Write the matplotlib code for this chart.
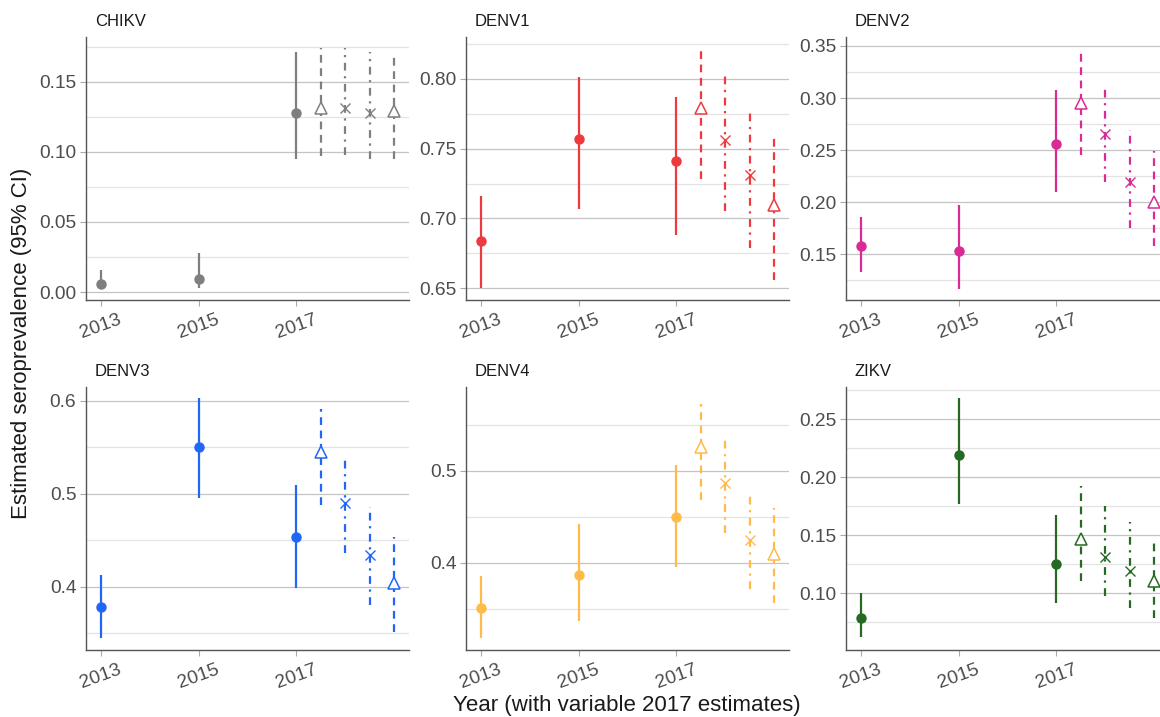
import matplotlib
matplotlib.use("Agg")
import matplotlib.pyplot as plt
import numpy as np

plt.rcParams['font.family'] = ['Liberation Sans', 'DejaVu Sans']

viruses = ["CHIKV", "DENV1", "DENV2", "DENV3", "DENV4", "ZIKV"]
colors = ["#7f7f7f", "#ee3a3f", "#d92a96", "#2166f7", "#ffba4a", "#256a23"]

obs_years = [2013, 2015, 2017]
var_x = [2017.5, 2018.0, 2018.5, 2019.0]
var_markers = ["^", "x", "x", "^"]
var_styles = [(0, (3.5, 2.5)), (0, (3.5, 2.5, 1, 2.5)), (0, (3.5, 2.5, 1, 2.5)), (0, (3.5, 2.5))]

obs_mid = {
    "CHIKV": [0.006, 0.009, 0.128],
    "DENV1": [0.684, 0.757, 0.741],
    "DENV2": [0.158, 0.153, 0.256],
    "DENV3": [0.378, 0.550, 0.453],
    "DENV4": [0.351, 0.387, 0.450],
    "ZIKV":  [0.079, 0.219, 0.125],
}
obs_lo = {
    "CHIKV": [0.003, 0.003, 0.095],
    "DENV1": [0.650, 0.707, 0.688],
    "DENV2": [0.133, 0.117, 0.210],
    "DENV3": [0.345, 0.495, 0.399],
    "DENV4": [0.318, 0.336, 0.395],
    "ZIKV":  [0.062, 0.177, 0.092],
}
obs_hi = {
    "CHIKV": [0.016, 0.028, 0.171],
    "DENV1": [0.716, 0.801, 0.787],
    "DENV2": [0.186, 0.197, 0.308],
    "DENV3": [0.413, 0.603, 0.509],
    "DENV4": [0.386, 0.442, 0.506],
    "ZIKV":  [0.100, 0.268, 0.167],
}
var_mid = {
    "CHIKV": [0.131, 0.131, 0.128, 0.129],
    "DENV1": [0.779, 0.756, 0.731, 0.710],
    "DENV2": [0.295, 0.265, 0.219, 0.200],
    "DENV3": [0.545, 0.490, 0.434, 0.404],
    "DENV4": [0.526, 0.487, 0.425, 0.410],
    "ZIKV":  [0.147, 0.131, 0.119, 0.111],
}
var_lo = {
    "CHIKV": [0.097, 0.098, 0.095, 0.095],
    "DENV1": [0.728, 0.705, 0.679, 0.656],
    "DENV2": [0.245, 0.219, 0.175, 0.158],
    "DENV3": [0.488, 0.436, 0.380, 0.351],
    "DENV4": [0.468, 0.432, 0.371, 0.356],
    "ZIKV":  [0.111, 0.098, 0.087, 0.079],
}
var_hi = {
    "CHIKV": [0.174, 0.174, 0.171, 0.170],
    "DENV1": [0.822, 0.802, 0.777, 0.758],
    "DENV2": [0.347, 0.312, 0.269, 0.249],
    "DENV3": [0.591, 0.540, 0.486, 0.453],
    "DENV4": [0.573, 0.537, 0.477, 0.460],
    "ZIKV":  [0.192, 0.175, 0.161, 0.147],
}
ylims = {
    "CHIKV": (-0.0057, 0.182),
    "DENV1": (0.6416, 0.830),
    "DENV2": (0.106, 0.3586),
    "DENV3": (0.3318, 0.615),
    "DENV4": (0.3048, 0.5916),
    "ZIKV":  (0.0512, 0.2776),
}
major_ticks = {
    "CHIKV": [0.00, 0.05, 0.10, 0.15],
    "DENV1": [0.65, 0.70, 0.75, 0.80],
    "DENV2": [0.15, 0.20, 0.25, 0.30, 0.35],
    "DENV3": [0.4, 0.5, 0.6],
    "DENV4": [0.4, 0.5],
    "ZIKV":  [0.10, 0.15, 0.20, 0.25],
}
tick_fmt = {"CHIKV": "{:.2f}", "DENV1": "{:.2f}", "DENV2": "{:.2f}",
            "DENV3": "{:.1f}", "DENV4": "{:.1f}", "ZIKV": "{:.2f}"}

W, H = 1160, 717
fig = plt.figure(figsize=(W / 100, H / 100), dpi=100)

col_left = [86, 466, 846]
row_top = [37, 387]
pw, ph = 323, 263

txt_col = "#4d4d4d"
for i, v in enumerate(viruses):
    r, c = divmod(i, 3)
    l, t = col_left[c], row_top[r]
    ax = fig.add_axes([l / W, 1 - (t + ph) / H, pw / W, ph / H])
    ax.set_xlim(2012.7, 2019.3)
    lo, hi = ylims[v]
    ax.set_ylim(lo, hi)
    mt = major_ticks[v]
    step = mt[1] - mt[0]
    minors = np.arange(mt[0] - step / 2, hi + 1e-9, step)
    minors = [m for m in minors if lo <= m <= hi]
    for m in minors:
        ax.axhline(m, color="#e3e3e3", lw=0.9, zorder=0)
    for m in mt:
        ax.axhline(m, color="#c4c4c4", lw=0.9, zorder=0)
    ax.set_yticks(mt)
    ax.set_yticklabels([tick_fmt[v].format(m) for m in mt])
    ax.set_xticks(obs_years)
    ax.set_xticklabels([str(y) for y in obs_years], rotation=20, ha="center")
    ax.tick_params(axis="both", colors="#aaaaaa", labelcolor=txt_col, labelsize=13.8,
                   length=4, width=0.8)
    ax.tick_params(axis="x", pad=4)
    ax.tick_params(axis="y", pad=3)
    for s in ["top", "right"]:
        ax.spines[s].set_visible(False)
    for s in ["left", "bottom"]:
        ax.spines[s].set_color("#555555")
        ax.spines[s].set_linewidth(1.0)

    col = colors[i]
    ax.vlines(obs_years, obs_lo[v], obs_hi[v], color=col, lw=1.6, zorder=3)
    ax.plot(obs_years, obs_mid[v], "o", color=col, ms=6.5, zorder=4, linestyle="none")
    for k in range(4):
        ax.vlines([var_x[k]], [var_lo[v][k]], [var_hi[v][k]], color=col, lw=1.6,
                  linestyles=[var_styles[k]], zorder=3)
        if var_markers[k] == "^":
            ax.plot([var_x[k]], [var_mid[v][k]], "^", mfc="white", mec=col, mew=1.1,
                    ms=9, zorder=4, linestyle="none")
        else:
            ax.plot([var_x[k]], [var_mid[v][k]], "x", color=col, mew=1.0, ms=7.5,
                    zorder=4, linestyle="none")
    ax.set_facecolor("white")
    fig.text((l + 9) / W, 1 - (t - 15) / H, v, fontsize=12, color="#1a1a1a",
             ha="left", va="center")

fig.text(22 / W, 1 - 343 / H, "Estimated seroprevalence (95% CI)", rotation=90,
         fontsize=16, color="#1a1a1a", ha="center", va="center")
fig.text(627 / W, 1 - 705 / H, "Year (with variable 2017 estimates)",
         fontsize=16, color="#1a1a1a", ha="center", va="center")

fig.savefig("out.png", dpi=100, facecolor="white")
